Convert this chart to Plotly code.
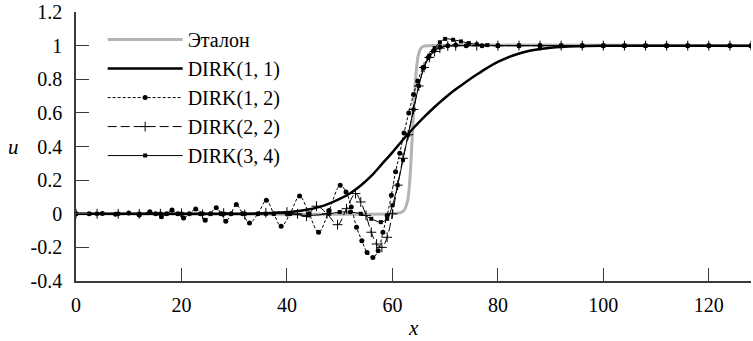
import plotly.graph_objects as go

# ---------------- data ----------------
x_ref = [0, 60, 61, 61.8, 62.4, 62.9, 63.3, 63.7, 64.1, 64.5, 64.9, 65.4, 66, 67, 128]
u_ref = [0, 0, 0.003, 0.01, 0.03, 0.08, 0.2, 0.42, 0.66, 0.84, 0.94, 0.985, 0.997, 1, 1]

x_11 = [0, 10, 20, 30, 35, 38, 41, 44, 47, 50, 52, 54, 56, 58, 60, 62, 64, 66, 68,
        70, 72, 74, 76, 78, 80, 83, 86, 90, 95, 100, 110, 128]
u_11 = [0, 0, 0, 0, 0.002, 0.006, 0.012, 0.025, 0.048, 0.088, 0.122, 0.168, 0.225,
        0.295, 0.365, 0.44, 0.51, 0.575, 0.635, 0.69, 0.74, 0.785, 0.828, 0.868, 0.903,
        0.943, 0.97, 0.988, 0.997, 1, 1, 1]

x_12 = [0, 2.5, 5, 7.5, 10, 12, 14, 15.1, 16.2, 17.2, 18.2, 19.3, 20.4, 21.5, 22.7,
        23.6, 24.5, 25.5, 26.6, 27.5, 28.4, 29.4, 30.4, 31.6, 32.9, 34.5, 36.1, 37.5,
        38.9, 40.6, 42.4, 44.2, 46.0, 48.0, 50.1, 51.2, 52.2, 53.2, 54.2, 55.2, 56.3,
        57.3, 58.2, 59.0, 59.8, 60.6, 61.4, 62.2, 63.1, 64.0, 64.8, 65.8, 66.8, 67.8,
        69.0, 70.5, 72.0, 74, 77, 80, 84, 88, 92, 96, 100, 104, 108, 112, 116, 120,
        124, 128]
u_12 = [0, 0, 0.002, -0.003, 0.004, -0.008, 0.012, 0, -0.018, 0, 0.022, 0, -0.026,
        0, 0.028, 0, -0.038, 0, 0.036, 0, -0.045, 0, 0.055, 0, -0.055, 0, 0.08, 0,
        -0.075, 0, 0.105, 0, -0.11, 0.02, 0.17, 0.13, 0.04, -0.08, -0.16, -0.23, -0.26,
        -0.22, -0.11, -0.01, 0.11, 0.25, 0.36, 0.48, 0.6, 0.71, 0.79, 0.87, 0.93, 0.97,
        0.99, 1.0, 1.003, 1.0, 1, 1, 1, 1, 1, 1, 1, 1, 1, 1, 1, 1, 1, 1]

x_22 = [0, 4, 8, 12, 16, 20, 24, 28, 32, 36, 40, 42, 43.7, 45.6, 47.6, 49.6, 51.3,
        53.0, 54.0, 55.0, 56.0, 57.0, 58.0, 59.0, 60.0, 61.0, 62.0, 63.0, 64.0, 65.0,
        66.0, 67.0, 68.0, 69.0, 70.5, 72, 76, 80, 84, 88, 92, 96, 100, 104, 108, 112,
        116, 120, 124, 128]
u_22 = [0, 0, 0, 0, 0, 0.002, -0.003, 0.004, -0.004, 0.006, 0.01, 0.0, -0.015, 0.045,
        0.0, -0.065, 0.03, 0.12, 0.07, -0.01, -0.11, -0.18, -0.2, -0.14, 0.0, 0.17,
        0.33, 0.47, 0.62, 0.76, 0.87, 0.93, 0.965, 0.985, 0.998, 1.0, 1, 1, 1, 1, 1,
        1, 1, 1, 1, 1, 1, 1, 1, 1]

x_34 = [0, 4, 8, 12, 16, 20, 24, 28, 32, 36, 40, 44, 48, 50, 52, 54, 56, 57.8, 59,
        60, 61, 62, 63, 64, 65, 66, 67, 68, 69, 70, 71.5, 73, 74.5, 76, 78, 80, 84,
        88, 92, 96, 100, 104, 108, 112, 116, 120, 124, 128]
u_34 = [0, 0, 0, 0, 0, 0, 0, 0, 0, 0, 0, -0.01, 0.0, 0.01, 0.01, 0.0, -0.03, -0.05,
        -0.03, 0.05, 0.17, 0.32, 0.47, 0.62, 0.76, 0.87, 0.94, 0.985, 1.02, 1.04,
        1.035, 1.025, 1.015, 1.008, 1.003, 1.0, 1, 1, 1, 1, 1, 1, 1, 1, 1, 1, 1, 1]

names = ["Эталон", "DIRK(1, 1)", "DIRK(1, 2)", "DIRK(2, 2)", "DIRK(3, 4)"]

y_ticks = [-0.4, -0.2, 0, 0.2, 0.4, 0.6, 0.8, 1, 1.2]
y_tick_text = ["-0.4", "-0.2", "0", "0.2", "0.4", "0.6", "0.8", "1", "1.2"]
x_ticks = [0, 20, 40, 60, 80, 100, 120]

for a, b in [(x_ref, u_ref), (x_11, u_11), (x_12, u_12), (x_22, u_22), (x_34, u_34)]:
    assert len(a) == len(b)

FONT = "Liberation Serif"
FS = 20
AX = "#3a3a3a"

fig = go.Figure()
fig.add_trace(go.Scatter(x=x_ref, y=u_ref, name=names[0], mode="lines", legendgroup="a",
                         line=dict(color="#b4b4b4", width=3, shape="spline")))
fig.add_trace(go.Scatter(x=x_11, y=u_11, name=names[1], mode="lines", legendgroup="b",
                         line=dict(color="black", width=2.5, shape="spline")))
fig.add_trace(go.Scatter(x=x_12, y=u_12, name=names[2], mode="lines+markers", legendgroup="c",
                         line=dict(color="black", width=1, dash="3px,2px", shape="spline"),
                         marker=dict(symbol="circle", size=5, color="black")))
fig.add_trace(go.Scatter(x=x_22, y=u_22, name=names[3], mode="lines+markers", legendgroup="d",
                         line=dict(color="black", width=1, dash="9px,4px", shape="spline"),
                         marker=dict(symbol="cross-thin", size=7, color="black",
                                     line=dict(color="black", width=1))))
fig.add_trace(go.Scatter(x=x_34, y=u_34, name=names[4], mode="lines+markers", legendgroup="e",
                         line=dict(color="black", width=1, shape="spline"),
                         marker=dict(symbol="square", size=4, color="black")))

fig.update_layout(
    width=753, height=341,
    margin=dict(l=76, r=2, t=12, b=60),
    paper_bgcolor="white", plot_bgcolor="white",
    font=dict(family=FONT, size=FS, color="black"),
    showlegend=True,
    legend=dict(x=0.0395, y=0.97, xanchor="left", yanchor="top",
                bgcolor="rgba(0,0,0,0)", font=dict(family=FONT, size=FS, color="black"),
                tracegroupgap=0, itemwidth=75),
    xaxis=dict(range=[0, 128], tickvals=x_ticks, ticks="inside", ticklen=13,
               tickcolor=AX, tickwidth=1.2, showline=True, linecolor=AX, linewidth=1.5,
               showgrid=False, zeroline=False,
               tickfont=dict(family=FONT, size=FS, color="black"),
               ticklabelstandoff=5),
    yaxis=dict(range=[-0.4, 1.2], tickvals=y_ticks, ticktext=y_tick_text, ticks="inside",
               ticklen=13, tickcolor=AX, tickwidth=1.2, showline=True, linecolor=AX,
               linewidth=1.5, showgrid=False, zeroline=False,
               tickfont=dict(family=FONT, size=FS, color="black"), ticklabelstandoff=8),
    annotations=[
        dict(text="<i>u</i>", xref="paper", yref="paper", x=-0.093, y=0.5,
             xanchor="center", yanchor="middle", showarrow=False,
             font=dict(family=FONT, size=FS + 1, color="black")),
        dict(text="<i>x</i>", xref="paper", yref="paper", x=0.5, y=-0.175,
             xanchor="center", yanchor="middle", showarrow=False,
             font=dict(family=FONT, size=FS + 1, color="black")),
    ],
)

fig.write_html("out.html", config={"displayModeBar": False},
               post_script="document.body.style.margin='0';document.body.style.padding='0';")
